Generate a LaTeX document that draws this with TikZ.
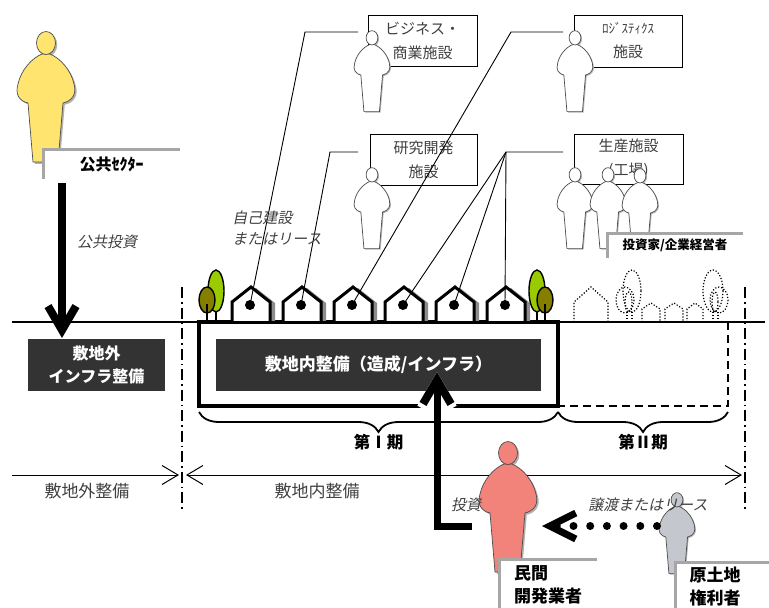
\documentclass[tikz,border=0pt]{standalone}
\usepackage{fontspec}
\setmainfont{Noto Sans CJK JP}
\newfontfamily\slantjp{Noto Sans CJK JP}[FakeSlant=0.2]
\usetikzlibrary{arrows.meta,decorations.pathreplacing}

\definecolor{boxdark}{HTML}{333333}
\definecolor{framegrey}{HTML}{A6A6A6}
\definecolor{textgrey}{HTML}{404040}
\definecolor{persyellow}{HTML}{FFE570}
\definecolor{persred}{HTML}{F2837B}
\definecolor{persgrey}{HTML}{C4C7CE}
\definecolor{treeolive}{HTML}{857F00}
\definecolor{treegreen}{HTML}{9ACB00}

% outline of a standing figure, head top at the origin, y pointing down
\def\figurebody{(-4,22) .. controls (-14,26) and (-25,38) .. (-28,52)
  .. controls (-31,62) and (-27,69) .. (-18,71) -- (-13,130) -- (12,130) -- (17,71)
  .. controls (26,69) and (31,62) .. (28,52)
  .. controls (25,38) and (14,26) .. (4,22) -- cycle}
\def\figurehead{(0,11) ellipse [x radius=9.5, y radius=11.5]}

\tikzset{
  pics/person/.style={code={
    \fill[black!30, shift={(1.8,1.8)}] \figurebody;
    \fill[black!30, shift={(1.8,1.8)}] \figurehead;
    \filldraw[fill=#1, draw=black!70, line width=0.7pt] \figurebody;
    \filldraw[fill=#1, draw=black!70, line width=0.7pt] \figurehead;
  }},
  pics/house/.style={code={
    \fill[black!45] (-14,0) -- (-14,-19) -- (5,-34) -- (24,-19) -- (24,0) -- cycle;
    \filldraw[fill=white, line width=3pt] (-19,0) -- (-19,-20) -- (0,-35) -- (19,-20) -- (19,0);
    \fill (-1,-17) circle [radius=5];
    \coordinate (-dot) at (-1,-17);
  }},
  darkbox/.style={fill=boxdark, text=white, align=center, inner sep=0pt, outer sep=0pt,
    font=\bfseries\fontsize{16}{23}\selectfont},
  facility/.style={draw=black, line width=1pt, fill=white, text=textgrey, align=center,
    inner sep=0pt, font=\fontsize{15}{24}\selectfont},
  actor/.style={fill=white, inner sep=0pt, outer sep=0pt, anchor=north west,
    font=\bfseries\fontsize{16}{23}\selectfont},
  actorframe/.style={draw=framegrey, line width=3pt},
  note/.style={text=textgrey, inner sep=0pt, font=\slantjp\fontsize{15}{21}\selectfont},
  spanlabel/.style={text=textgrey, inner sep=0pt, font=\fontsize{17}{20}\selectfont},
  phaselabel/.style={inner sep=0pt, font=\bfseries\fontsize{16.5}{18}\selectfont},
  leader/.style={line width=0.9pt},
  ghost/.style={line width=1.2pt, dash pattern=on 1.2pt off 1.8pt},
  dashdot/.style={line width=1.5pt, dash pattern=on 11pt off 4pt on 1.5pt off 4pt},
  span/.style={line width=0.9pt},
  spantip/.tip={Straight Barb[length=16pt, width=19pt, line width=1pt]},
  heavy/.style={line width=8pt, -{Straight Barb[length=24pt, width=28pt, line width=8pt]}},
  brace/.style={line width=1.8pt, decorate, decoration={brace, mirror, amplitude=20pt, aspect=0.5}},
}

\begin{document}
\begin{tikzpicture}[x=1pt, y=-1pt]
\useasboundingbox (0,0) rectangle (769,608);

% ---------- facility boxes ----------
\node[facility, minimum width=109pt, minimum height=51pt] (biz) at (422.5,40.5) {ビジネス・\\商業施設};
\node[facility, minimum width=107pt, minimum height=51pt] (rnd) at (423.5,159.5) {研究開発\\施設};
\node[facility, minimum width=108pt, minimum height=52pt] (logi) at (628,41)
  {{\fontsize{13}{24}\selectfont ﾛｼﾞｽﾃｨｸｽ}\\施設};
\node[facility, minimum width=109pt, minimum height=50pt] (fact) at (628.5,159) {生産施設\\(工場)};

% ---------- site frames ----------
\node[draw, line width=3.5pt, minimum width=359pt, minimum height=84pt, inner sep=0pt, outer sep=0pt]
  (phase1) at (378.5,364) {};
\node[minimum width=170pt, minimum height=84pt, inner sep=0pt, outer sep=0pt] (phase2) at (643,364) {};
\draw[line width=2.5pt, dash pattern=on 8pt off 5pt]
  (phase2.north east) -- (phase2.south east) -- (phase2.south west);

\node[darkbox, minimum width=137pt, minimum height=52pt] (offsite) at (96.5,365) {敷地外\\インフラ整備};
\node[darkbox, minimum width=325pt, minimum height=52pt, font=\bfseries\fontsize{17}{20}\selectfont]
  (onsite) at (378.5,365) {敷地内整備（造成/インフラ）};

% ---------- houses and trees ----------
\pic (h1) at (251,322) {house};
\pic (h2) at (302,322) {house};
\pic (h3) at (353,322) {house};
\pic (h4) at (404,322) {house};
\pic (h5) at (455,322) {house};
\pic (h6) at (506,322) {house};

\filldraw[fill=treegreen, line width=1.4pt] (216,291) ellipse [x radius=8, y radius=21];
\filldraw[fill=treeolive, line width=1.4pt] (207,300) ellipse [x radius=8, y radius=13];
\draw[line width=1.4pt] (207,304) -- (207,322) (216,312) -- (216,322);
\filldraw[fill=treegreen, line width=1.4pt] (537,291) ellipse [x radius=8, y radius=21];
\filldraw[fill=treeolive, line width=1.4pt] (545,300) ellipse [x radius=8, y radius=13];
\draw[line width=1.4pt] (545,304) -- (545,322) (537,312) -- (537,322);

% planned second phase, dotted
\draw[ghost] (574,322) -- (574,302) -- (591,287) -- (608,302) -- (608,322);
\draw[ghost] (642,322) -- (642,309) -- (651,303) -- (660,309) -- (660,322);
\draw[ghost] (665,322) -- (665,309) -- (674,303) -- (683,309) -- (683,322);
\draw[ghost] (687,322) -- (687,309) -- (695,303) -- (703,309) -- (703,322);
\draw[ghost] (632,291) ellipse [x radius=9, y radius=21];
\draw[ghost] (625,300) ellipse [x radius=9, y radius=13];
\draw[ghost] (628.5,302) ellipse [x radius=3.5, y radius=10];
\draw[ghost] (627,312) -- (627,322) (632,312) -- (632,322);
\draw[ghost] (713,291) ellipse [x radius=10, y radius=21];
\draw[ghost] (719,300) ellipse [x radius=9, y radius=13];
\draw[ghost] (715,302) ellipse [x radius=3, y radius=10];
\draw[ghost] (713,312) -- (713,322) (718,312) -- (718,322);

% ground
\coordinate (groundW) at (12,322);
\coordinate (groundE) at (765,322);
\draw[line width=2.5pt] (groundW) -- (groundE);

% ---------- leader lines ----------
\coordinate (bizend) at (358,32);   \coordinate (bizbend) at (305,32);
\coordinate (rndend) at (358,152);  \coordinate (rndbend) at (330,152);
\coordinate (logiend) at (563,32);  \coordinate (logibend) at (511,32);
\coordinate (factend) at (563,152); \coordinate (factbend) at (506,152);
\draw[leader] (bizend) -- (bizbend) -- (h1-dot);
\draw[leader] (rndend) -- (rndbend) -- (h2-dot);
\draw[leader] (logiend) -- (logibend) -- (h3-dot);
\draw[leader] (factend) -- (factbend) -- (h4-dot);
\draw[leader] (factbend) -- (h5-dot);
\draw[leader] (factbend) -- (h6-dot);

% ---------- figures ----------
\pic[scale=0.62] at (372,31) {person=white};
\pic[scale=0.62] at (372,168) {person=white};
\pic[scale=0.62] at (575,31) {person=white};
\pic[scale=0.62] at (575,168) {person=white};
\pic[scale=0.62] at (608,168) {person=white};
\pic[scale=0.62] at (640,169) {person=white};
\pic at (46,32) {person=persyellow};

% ---------- boundaries and spans ----------
\coordinate (westTop) at (182,287);  \coordinate (westBot) at (182,510);
\coordinate (eastTop) at (745,287);  \coordinate (eastBot) at (745,510);
\draw[dashdot] (westTop) -- (westBot);
\draw[dashdot] (eastTop) -- (eastBot);

\draw[brace] ([yshift=-6pt]phase1.south west) -- ([yshift=-6pt]phase1.south east)
  node[phaselabel, midway, below=21pt] (ph1) {第Ⅰ期};
\draw[brace] ([yshift=-6pt]phase2.south west) -- ([yshift=-6pt]phase2.south east)
  node[phaselabel, midway, below=21pt] (ph2) {第Ⅱ期};

\coordinate (spanW) at (12,475);
\coordinate (spanM1) at (179,475);
\coordinate (spanM2) at (186,475);
\coordinate (spanE) at (742,475);
\draw[span, -spantip] (spanW) -- (spanM1);
\draw[span, spantip-spantip] (spanM2) -- (spanE);
\node[spanlabel] (offlbl) at (87,491) {敷地外整備};
\node[spanlabel] (onlbl) at (317,491) {敷地内整備};

% ---------- actors ----------
\pic at (508,442) {person=persred};
\pic[scale=0.62] at (677,493) {person=persgrey};

\node[actor, minimum width=137pt, minimum height=30pt] (pubsec) at (43,149) {公共ｾｸﾀｰ};
\draw[actorframe] (pubsec.south west) -- (pubsec.north west) -- (pubsec.north east);
\node[actor, minimum width=136pt, minimum height=25pt, font=\bfseries\fontsize{12.5}{15}\selectfont]
  (investor) at (607,233) {投資家/企業経営者};
\draw[actorframe] (investor.south west) -- (investor.north west) -- (investor.north east);
\node[actor, minimum width=98pt, minimum height=52pt, align=left,
  font=\bfseries\fontsize{17}{23}\selectfont] (developer) at (499,559) {民間\\開発業者};
\draw[actorframe] (developer.south west) -- (developer.north west) -- (developer.north east);
\node[actor, minimum width=80pt, minimum height=50pt, align=left,
  font=\bfseries\fontsize{17}{23}\selectfont] (owner) at (675,562) {原土地\\権利者};
\draw[actorframe] (owner.south west) -- (owner.north west) -- ([xshift=20pt]owner.north east);

% ---------- flows ----------
\draw[heavy] ([shift={(19,4)}]pubsec.south west) -- ([shift={(34,-1)}]offsite.north west);

\coordinate (investfrom) at (472,526);
\coordinate (investto) at (437,372);
\draw[white, line width=13pt, -{Straight Barb[length=24pt, width=28pt, line width=13pt]}]
  (437,420) -- (investto);
\draw[heavy, line width=7pt] (investfrom) -| (investto);

\coordinate (transferfrom) at (657,526);
\coordinate (transferto) at (542,526);
\draw[line width=8pt, line cap=round, dash pattern=on 0pt off 16.7pt,
  -{Straight Barb[length=26pt, width=26pt, line width=7pt]}] (transferfrom) -- (transferto);

% ---------- notes ----------
\node[note] (pubinv) at (107,242) {公共投資};
\node[note, align=left] (selfbuild) at (277,228) {自己建設\\またはリース};
\node[note] (devinv) at (466,505) {投資};
\node[note] (transfer) at (648,505) {譲渡またはリース};
\end{tikzpicture}
\end{document}
